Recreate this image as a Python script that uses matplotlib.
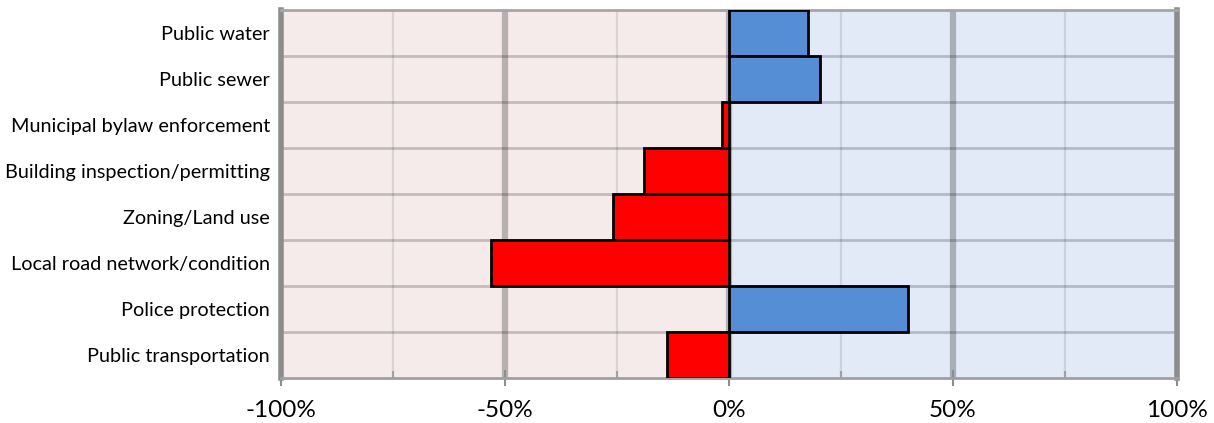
import matplotlib
matplotlib.use("Agg")
import matplotlib.pyplot as plt
from matplotlib.ticker import FixedLocator

categories = [
    "Public water",
    "Public sewer",
    "Municipal bylaw enforcement",
    "Building inspection/permitting",
    "Zoning/Land use",
    "Local road network/condition",
    "Police protection",
    "Public transportation",
]
net_values = [17.7, 20.4, -1.6, -19.0, -25.8, -53.1, 39.9, -13.9]
x_ticks = [-100, -50, 0, 50, 100]
x_tick_labels = ["-100%", "-50%", "0%", "50%", "100%"]
minor_ticks = [-75, -25, 25, 75]

W, H, DPI = 1214, 423, 100
fig = plt.figure(figsize=(W / DPI, H / DPI), dpi=DPI)
ax = fig.add_axes([281 / W, (H - 378) / H, (1177 - 281) / W, (378 - 10) / H])

ax.set_xlim(-100, 100)
ax.set_ylim(len(categories) - 0.5, -0.5)

# two-tone background
ax.axvspan(-100, 0, color="#F5EBEB", zorder=0, lw=0)
ax.axvspan(0, 100, color="#E1EAF6", zorder=0, lw=0)

grid_major = (0, 0, 0, 0.25)
grid_minor = (0, 0, 0, 0.10)
for x in x_ticks[1:-1]:
    ax.axvline(x, color=grid_major, lw=4.5, zorder=1)
for x in minor_ticks:
    ax.axvline(x, color=grid_minor, lw=1.6, zorder=1)
for k in range(len(categories) - 1):
    ax.axhline(k + 0.5, color=(0, 0, 0, 0.2), lw=2.0, zorder=1)

colors = ["#FF0000" if v < 0 else "#558ED5" for v in net_values]
ax.barh(range(len(categories)), net_values, height=1.0, color=colors,
        edgecolor="black", linewidth=2.0, zorder=3)

ax.set_yticks(range(len(categories)))
ax.set_yticklabels(categories, fontsize=14.3, fontfamily="Lato")
ax.tick_params(axis="y", length=0, pad=8)

ax.xaxis.set_major_locator(FixedLocator(x_ticks))
ax.xaxis.set_minor_locator(FixedLocator(minor_ticks))
ax.set_xticklabels(x_tick_labels, fontsize=17.5, fontfamily="Lato")
ax.tick_params(axis="x", which="major", direction="inout", length=12,
               width=1.5, color="#8C8C8C", pad=10)
ax.tick_params(axis="x", which="minor", direction="in", length=5,
               width=1.5, color="#A0A0A0")

for side in ("left", "right"):
    ax.spines[side].set_color("#8C8C8C")
    ax.spines[side].set_linewidth(4)
ax.spines["top"].set_color("#A6A6A6")
ax.spines["top"].set_linewidth(2)
ax.spines["bottom"].set_color("#A0A0A0")
ax.spines["bottom"].set_linewidth(2)

fig.savefig("out.png", dpi=DPI)
